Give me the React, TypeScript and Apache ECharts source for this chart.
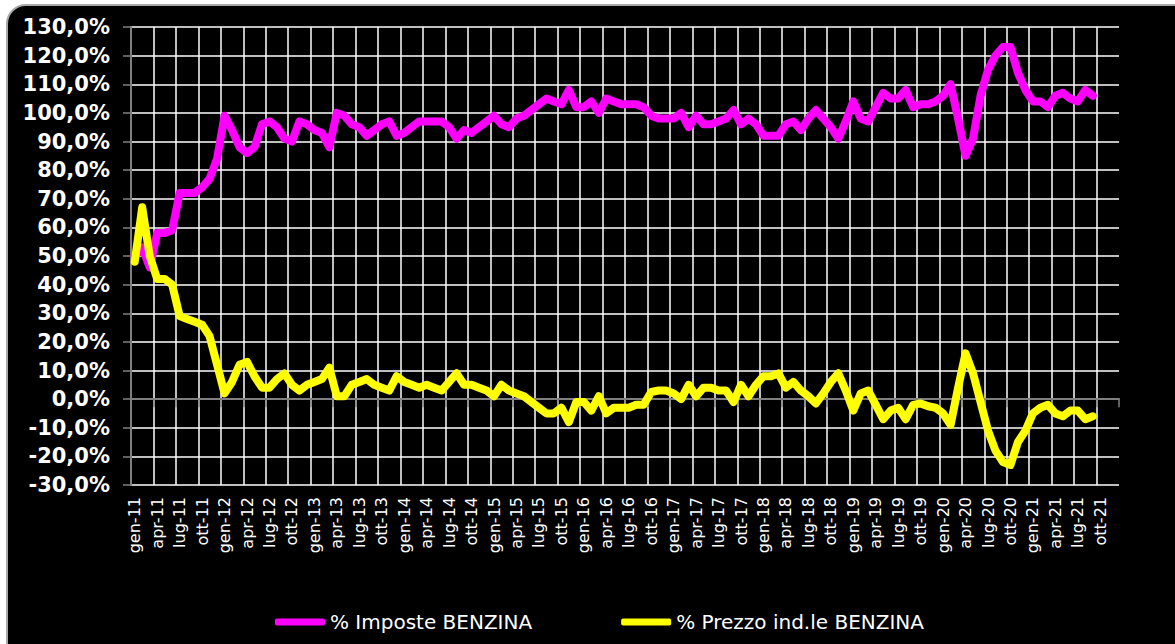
import React, { useEffect, useRef } from "react";
import * as echarts from "echarts";

const MONTHS = ["gen", "feb", "mar", "apr", "mag", "giu", "lug", "ago", "set", "ott", "nov", "dic"];
const YEARS = ["11", "12", "13", "14", "15", "16", "17", "18", "19", "20", "21"];

const SERIES_NAMES = ["% Imposte BENZINA", "% Prezzo ind.le BENZINA"];

// % Imposte BENZINA, gen-11 .. set-21
const impostePct = [
  50, 53, 46, 58, 58, 59, 72, 72, 72, 74, 77, 84,
  99, 94, 88, 86, 88, 96, 97, 95, 91, 90, 97, 96,
  94, 93, 88, 100, 99, 96, 95, 92, 94, 96, 97, 92,
  93, 95, 97, 97, 97, 97, 95, 91, 94, 93, 95, 97,
  99, 96, 95, 98, 99, 101, 103, 105, 104, 103, 108, 102,
  102, 104, 100, 105, 104, 103, 103, 103, 102, 99, 98, 98,
  98, 100, 95, 99, 96, 96, 97, 98, 101, 96, 98, 96,
  92, 92, 92, 96, 97, 94, 98, 101, 98, 95, 91, 97,
  104, 98, 97, 102, 107, 105, 105, 108, 102, 103, 103, 104,
  106, 110, 98, 85, 91, 106, 115, 120, 123, 123, 114, 108,
  104, 104, 102, 106, 107, 105, 104, 108, 106,
];

// % Prezzo ind.le BENZINA, gen-11 .. set-21
const prezzoPct = [
  48, 67, 50, 42, 42, 40, 29, 28, 27, 26, 22, 12,
  2, 6, 12, 13, 8, 4, 4, 7, 9, 5, 3, 5,
  6, 7, 11, 1, 1, 5, 6, 7, 5, 4, 3, 8,
  6, 5, 4, 5, 4, 3, 6, 9, 5, 5, 4, 3,
  1, 5, 3, 2, 1, -1, -3, -5, -5, -3, -8, -1,
  -1, -4, 1, -5, -3, -3, -3, -2, -2, 2.5, 3, 3,
  2, 0, 5, 1, 4, 4, 3, 3, -1, 5, 1, 5,
  8, 8, 9, 4, 6, 3, 1, -1.5, 2, 6, 9, 3,
  -4, 2, 3, -2, -7, -4, -3, -7, -2, -1.5, -2.5, -3,
  -5, -9, 4, 16, 9, -1, -11, -18, -22, -23, -15, -11,
  -5, -3, -2, -5, -6, -4, -4, -7, -6,
];

const categories: string[] = [];
YEARS.forEach((y) => MONTHS.forEach((m) => categories.push(`${m}-${y}`)));

const Y_MIN = -30;
const Y_MAX = 130;
const Y_STEP = 10;
const LABEL_EVERY = 3;

// one colour per vertical grid line; the closing line at the plot's right edge is hidden
const splitCount = Math.ceil(categories.length / LABEL_EVERY) + 1;
const vGridColors = Array.from({ length: splitCount }, (_, k) =>
  k === splitCount - 1 ? "rgba(0,0,0,0)" : "#ffffff"
);

export default function App() {
  const ref = useRef<HTMLDivElement>(null);

  useEffect(() => {
    if (!ref.current) return;
    const chart = echarts.init(ref.current, undefined, { renderer: "svg" });
    chart.setOption({
      animation: false,
      backgroundColor: "transparent",
      grid: { left: 131, right: 56, top: 27, bottom: 159, containLabel: false },
      legend: {
        data: SERIES_NAMES,
        left: 270,
        top: 607,
        itemWidth: 50,
        itemHeight: 7,
        itemGap: 89,
        icon: "roundRect",
        textStyle: { color: "#ffffff", fontSize: 20, fontFamily: "DejaVu Sans" },
      },
      xAxis: {
        type: "category",
        data: categories,
        boundaryGap: true,
        axisLine: { show: true, lineStyle: { color: "#808080", width: 2 } },
        axisTick: { show: true, interval: LABEL_EVERY - 1, length: 8, lineStyle: { color: "#808080", width: 1.5 } },
        axisLabel: {
          interval: LABEL_EVERY - 1,
          rotate: 90,
          color: "#ffffff",
          fontFamily: "DejaVu Sans",
          fontSize: 16,
          margin: 12,
        },
        splitLine: { show: true, interval: LABEL_EVERY - 1, lineStyle: { color: vGridColors, width: 1.5 } },
      },
      yAxis: {
        type: "value",
        min: Y_MIN,
        max: Y_MAX,
        interval: Y_STEP,
        axisLine: { show: true, lineStyle: { color: "#808080", width: 2 } },
        axisTick: { show: true, length: 8, lineStyle: { color: "#808080", width: 1.5 } },
        axisLabel: {
          color: "#ffffff",
          fontFamily: "DejaVu Sans",
          fontWeight: "bold",
          fontSize: 21,
          margin: 21,
          formatter: (v: number) => `${v.toFixed(1).replace(".", ",")}%`,
        },
        splitLine: { show: true, lineStyle: { color: "#ffffff", width: 1.5 } },
      },
      series: [
        {
          name: SERIES_NAMES[0],
          type: "line",
          data: impostePct,
          symbol: "none",
          color: "#ff00ff",
          lineStyle: { width: 8, color: "#ff00ff", cap: "round", join: "round" },
        },
        {
          name: SERIES_NAMES[1],
          type: "line",
          data: prezzoPct,
          symbol: "none",
          color: "#ffff00",
          lineStyle: { width: 8, color: "#ffff00", cap: "round", join: "round" },
        },
      ],
    });
    return () => chart.dispose();
  }, []);

  return (
    <div
      style={{
        position: "fixed",
        left: 0,
        top: 0,
        width: 1175,
        height: 644,
        overflow: "hidden",
        background: "#ffffff",
      }}
    >
      <div
        style={{
          position: "absolute",
          left: 6,
          top: 4,
          width: 1190,
          height: 670,
          background: "#000000",
          borderRadius: 20,
          border: "2px solid #a8a8a8",
          boxSizing: "border-box",
        }}
      />
      <div ref={ref} style={{ position: "absolute", left: 0, top: 0, width: 1175, height: 644 }} />
    </div>
  );
}
